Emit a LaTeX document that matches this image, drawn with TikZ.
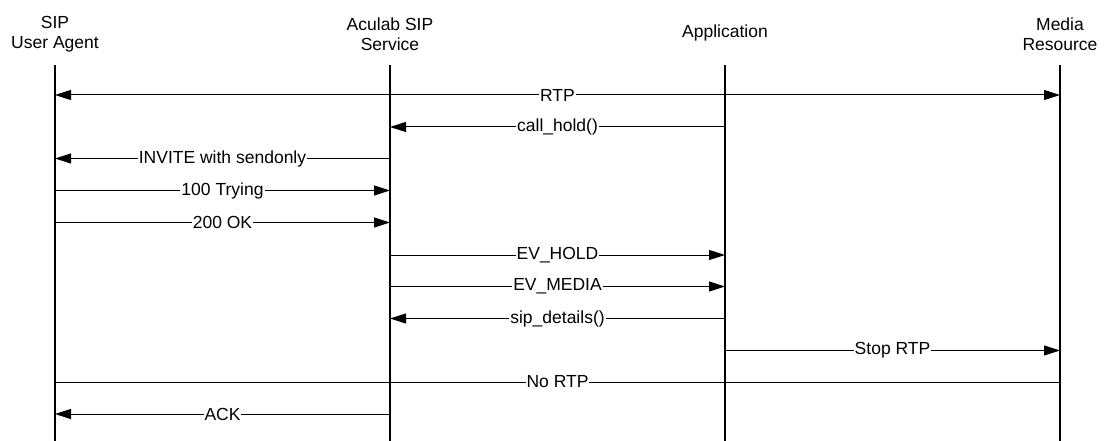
\documentclass[tikz,border=0pt]{standalone}
\usepackage{fontspec}
\setmainfont{Liberation Sans}
\usetikzlibrary{arrows.meta}
\begin{document}
\begin{tikzpicture}[x=1pt,y=-1pt,
  every node/.style={font=\fontsize{17.5}{20}\selectfont},
  head/.style={align=center,inner sep=0pt},
  lifeline/.style={line width=2.5pt},
  msg/.style={line width=1pt,-{Triangle[length=16pt,width=10pt]}},
  plain/.style={line width=1pt},
  lbl/.style={fill=white,inner sep=1pt}]
\useasboundingbox[fill=white] (0,0) rectangle (1106,441);
% headers
\node[head] (hua)  at (55,34.5)   {SIP\\User Agent};
\node[head] (hsvc) at (390,34.5)  {Aculab SIP\\Service};
\node[head] (happ) at (725,32.5)  {Application};
\node[head] (hmr)  at (1060,34.5) {Media\\Resource};
% lifeline ends
\coordinate (ua)  at (55,65);
\coordinate (svc) at (390,65);
\coordinate (app) at (725,65);
\coordinate (mr)  at (1060,65);
\coordinate (uab)  at (55,441);
\coordinate (svcb) at (390,441);
\coordinate (appb) at (725,441);
\coordinate (mrb)  at (1060,441);
% message rows
\coordinate (r1) at (0,95);
\coordinate (r2) at (0,127);
\coordinate (r3) at (0,158.5);
\coordinate (r4) at (0,190.5);
\coordinate (r5) at (0,222.5);
\coordinate (r6) at (0,255);
\coordinate (r7) at (0,286.5);
\coordinate (r8) at (0,318.5);
\coordinate (r9) at (0,350.5);
\coordinate (r10) at (0,382);
\coordinate (r11) at (0,414);
% messages
\draw[plain,{Triangle[length=16pt,width=10pt]}-{Triangle[length=16pt,width=10pt]}] (ua |- r1) -- node[lbl]{RTP} (mr |- r1);
\draw[msg] (app |- r2) -- node[lbl]{call\_hold()} (svc |- r2);
\draw[msg] (svc |- r3) -- node[lbl]{INVITE with sendonly} (ua |- r3);
\draw[msg] (ua |- r4) -- node[lbl]{100 Trying} (svc |- r4);
\draw[msg] (ua |- r5) -- node[lbl]{200 OK} (svc |- r5);
\draw[msg] (svc |- r6) -- node[lbl]{EV\_HOLD} (app |- r6);
\draw[msg] (svc |- r7) -- node[lbl]{EV\_MEDIA} (app |- r7);
\draw[msg] (app |- r8) -- node[lbl]{sip\_details()} (svc |- r8);
\draw[msg] (app |- r9) -- node[lbl]{Stop RTP} (mr |- r9);
\draw[plain] (ua |- r10) -- node[lbl]{No RTP} (mr |- r10);
\draw[msg] (svc |- r11) -- node[lbl]{ACK} (ua |- r11);
% lifelines
\draw[lifeline] (ua) -- (uab);
\draw[lifeline] (svc) -- (svcb);
\draw[lifeline] (app) -- (appb);
\draw[lifeline] (mr) -- (mrb);
\end{tikzpicture}
\end{document}
